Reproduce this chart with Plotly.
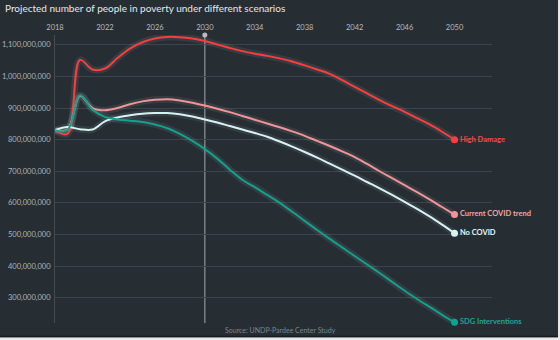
import plotly.graph_objects as go

years = list(range(2018, 2051))

high_damage = [830, 818, 1052, 1022, 1025, 1058, 1088, 1108, 1120, 1125, 1124, 1120, 1112,
               1101, 1090, 1080, 1072, 1065, 1057, 1047, 1035, 1022, 1008, 988, 967,
               946, 925, 906, 888, 868, 848, 825, 800]
current_covid = [830, 832, 938, 900, 893, 900, 912, 921, 926, 928, 924, 917, 908,
                 898, 887, 875, 863, 851, 839, 826, 812, 796, 780, 763, 745,
                 723, 700, 678, 656, 634, 611, 587, 563]
no_covid = [830, 840, 833, 832, 858, 870, 877, 882, 884, 884, 880, 873, 864,
            854, 843, 832, 821, 809, 794, 778, 761, 743, 724, 705, 686,
            666, 646, 625, 603, 581, 557, 531, 504]
sdg = [830, 830, 940, 895, 872, 864, 860, 856, 848, 836, 818, 796, 770,
       740, 705, 673, 650, 625, 600, 572, 543, 514, 486, 459, 432,
       405, 378, 350, 322, 296, 271, 246, 222]

series_names = ["High Damage", "Current COVID trend", "No COVID", "SDG Interventions"]
series_values = [high_damage, current_covid, no_covid, sdg]
line_colors = ["#ff3c3c", "#f39393", "#d6f3f2", "#0ea38e"]
label_colors = ["#f24a4a", "#f4a3a3", "#e4f6f6", "#1aa591"]

y_ticks = [300e6, 400e6, 500e6, 600e6, 700e6, 800e6, 900e6, 1000e6, 1100e6]
x_ticks = [2018, 2022, 2026, 2030, 2034, 2038, 2042, 2046, 2050]
marker_year = 2030
title_text = "Projected number of people in poverty under different scenarios"
source_text = "Source: UNDP-Pardee Center Study"

Y_MIN, Y_MAX = 220e6, 1131e6

fig = go.Figure()

# glow halos
for vals in series_values:
    fig.add_trace(go.Scatter(
        x=years, y=[v * 1e6 for v in vals], mode="lines",
        line=dict(color="rgba(190,200,205,0.10)", width=7, shape="spline", smoothing=1.0),
        hoverinfo="skip", showlegend=False))

for name, vals, lc, tc in zip(series_names, series_values, line_colors, label_colors):
    yv = [v * 1e6 for v in vals]
    fig.add_trace(go.Scatter(
        x=years, y=yv, mode="lines", name=name,
        line=dict(color=lc, width=2, shape="spline", smoothing=1.0),
        showlegend=False))
    fig.add_trace(go.Scatter(
        x=[years[-1]], y=[yv[-1]], mode="markers+text",
        marker=dict(color=lc, size=7),
        text=["<b>" + name + "</b>"], textposition="middle right",
        textfont=dict(color=tc, size=7.5, family="Lato"),
        cliponaxis=False, showlegend=False))

# 2030 marker dot
fig.add_trace(go.Scatter(
    x=[marker_year], y=[Y_MAX], mode="markers",
    marker=dict(color="#b8bcbf", size=5), cliponaxis=False, showlegend=False))

fig.add_shape(type="line", xref="x", yref="paper", x0=marker_year, x1=marker_year,
              y0=0, y1=1, line=dict(color="#8f9599", width=1.2), layer="below")

# frame border at right/bottom edges
fig.add_shape(type="rect", xref="paper", yref="paper",
              x0=1.1510, x1=1.17, y0=-0.1, y1=1.3,
              line=dict(width=0), fillcolor="#e8e8e8")
fig.add_shape(type="rect", xref="paper", yref="paper",
              x0=-0.2, x1=1.2, y0=-0.1, y1=-0.0497,
              line=dict(width=0), fillcolor="#e8e8e8")
fig.add_shape(type="rect", xref="paper", yref="paper",
              x0=-0.2, x1=1.151, y0=-0.0497, y1=-0.0440,
              line=dict(width=0), fillcolor="#161b1f")

fig.add_annotation(text=source_text, xref="paper", yref="paper", x=0.515, y=-0.025,
                   showarrow=False, font=dict(size=7, color="#7d858a", family="Lato"),
                   xanchor="center", yanchor="middle")

fig.add_annotation(text=title_text, xref="paper", yref="paper", x=-0.119, y=1.094,
                   showarrow=False, font=dict(size=10, color="#e6e8e9", family="Lato"),
                   xanchor="left", yanchor="middle")

fig.update_layout(
    width=560, height=340,
    margin=dict(l=55, r=68, t=35, b=17, autoexpand=False),
    paper_bgcolor="#262e34", plot_bgcolor="#262e34",
    font=dict(family="Lato", color="#b0b5b8"),
    xaxis=dict(range=[2018, 2053], side="top", tickvals=x_ticks, showgrid=False,
               zeroline=False, showline=False, ticks="", automargin=False,
               tickfont=dict(size=7.5, color="#b8bcbf"), ticklabelstandoff=3),
    yaxis=dict(range=[Y_MIN, Y_MAX], tickvals=y_ticks, tickformat=",d",
               showgrid=True, gridcolor="#3b444a", gridwidth=1, zeroline=False,
               showline=True, linecolor="#444c52", linewidth=1, ticks="", automargin=False,
               tickfont=dict(size=7.5, color="#b0b5b8"), ticklabelstandoff=2),
)

fig.write_html("out.html")
